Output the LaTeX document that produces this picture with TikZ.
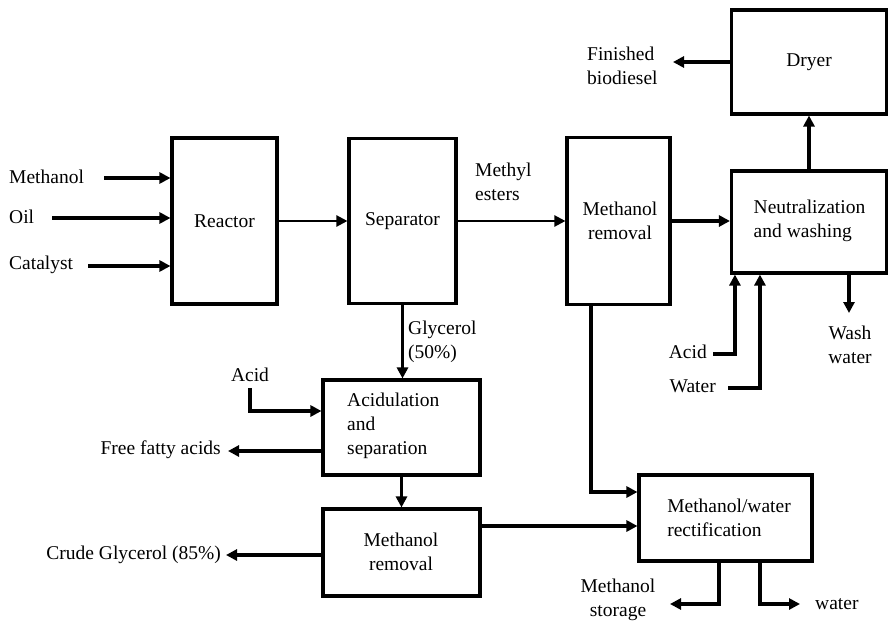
\documentclass[tikz,border=0pt]{standalone}
\usepackage{fontspec}
\setmainfont{Liberation Serif}
\usetikzlibrary{arrows.meta}
\begin{document}
\begin{tikzpicture}[x=1pt,y=-1pt,
  box/.style={draw, line width=3.1pt, inner sep=0pt},
  txt/.style={font=\fontsize{19.5}{24}\selectfont, inner sep=0pt},
  arr/.style={line width=3.1pt, -{Triangle[length=11pt,width=11pt]}},
  tarr/.style={line width=2.2pt, -{Triangle[length=11pt,width=11pt]}},
  pln/.style={line width=3.1pt}]
\useasboundingbox (0,0) rectangle (889,624);
% boxes
\node[box, minimum width=105pt, minimum height=166pt] (reactor) at (224.5,221) {};
\node[txt] at (reactor.center) {Reactor};
\node[box, minimum width=107pt, minimum height=165pt] (sep) at (402.5,221) {};
\node[txt] at (sep.center) {Separator};
\node[box, minimum width=103pt, minimum height=167pt] (mr1) at (618.5,221) {};
\node[txt, align=center] at (620,221) {Methanol\\removal};
\node[box, minimum width=155pt, minimum height=104pt] (dryer) at (809,62) {};
\node[txt] at (dryer.center) {Dryer};
\node[box, minimum width=155pt, minimum height=102pt] (neut) at (809,222) {};
\node[txt, align=left] at (809.5,221) {Neutralization\\and washing};
\node[box, minimum width=157pt, minimum height=95pt] (acid) at (401.5,427.5) {};
\node[txt, align=left, anchor=west] at (347,426) {Acidulation\\and\\separation};
\node[box, minimum width=157pt, minimum height=87pt] (mr2) at (401.5,552.5) {};
\node[txt, align=center] at (401,552) {Methanol\\removal};
\node[box, minimum width=173pt, minimum height=86pt] (rect) at (725.5,518) {};
\node[txt, align=left] at (729,518) {Methanol/water\\rectification};
% inputs to reactor
\node[txt, anchor=west] (lmeth) at (9,177) {Methanol};
\node[txt, anchor=west] (loil) at (9,217) {Oil};
\node[txt, anchor=west] (lcat) at (9,265) {Catalyst};
\coordinate (smeth) at (104,178);
\coordinate (soil) at (52,218);
\coordinate (scat) at (88,266);
\draw[arr] (smeth) -- (smeth -| reactor.west);
\draw[arr] (soil) -- (soil -| reactor.west);
\draw[arr] (scat) -- (scat -| reactor.west);
% main line
\draw[tarr] (reactor.east) -- (sep.west);
\draw[tarr] (sep.east) -- (mr1.west);
\node[txt, align=left, anchor=west] at (475,182) {Methyl\\esters};
\draw[arr] (mr1.east) -- (mr1.east -| neut.west);
\draw[arr] (neut.north) -- (dryer.south);
\coordinate (fin) at (673,62);
\draw[arr] (dryer.west) -- (fin);
\node[txt, align=left, anchor=west] at (587,66) {Finished\\biodiesel};
% neutralization inputs/outputs
\node[txt, anchor=east] at (707,352) {Acid};
\node[txt, anchor=east] at (716,386) {Water};
\coordinate (ar) at (713,354);
\coordinate (wr) at (728,388);
\draw[arr] (ar) -| ([xshift=5pt]neut.south west);
\draw[arr] (wr) -| ([xshift=30pt]neut.south west);
\coordinate (ww) at (849,313);
\draw[arr] (neut.south -| ww) -- (ww);
\node[txt, align=center] at (850,345) {Wash\\water};
% glycerol branch
\draw[arr] (sep.south) -- (sep.south |- acid.north);
\node[txt, align=left, anchor=west] at (408,342) {Glycerol\\(50\%)};
\node[txt] at (250,375) {Acid};
\coordinate (ac1) at (250,388);
\draw[arr] (ac1) |- ([yshift=16.5pt]acid.west);
\coordinate (ffa) at (228,451);
\draw[arr] (acid.west |- ffa) -- (ffa);
\node[txt, anchor=east] at (221,450) {Free fatty acids};
\draw[arr] (acid.south) -- (mr2.north);
\coordinate (cg) at (226,555);
\draw[arr] (mr2.west |- cg) -- (cg);
\node[txt, anchor=east] at (221,555) {Crude Glycerol (85\%)};
\coordinate (m2r) at (480,526);
\draw[arr] (m2r) -- (m2r -| rect.west);
\coordinate (m1d) at (591,305);
\draw[arr] (m1d) |- ([yshift=26pt]rect.west);
% rectification outputs
\coordinate (ms) at (670,604);
\coordinate (wa) at (800,604);
\draw[arr] (rect.south -| 719,0) |- (ms);
\draw[arr] (rect.south -| 760,0) |- (wa);
\node[txt, align=center] at (618,600) {Methanol\\storage};
\node[txt, anchor=west] at (815,604) {water};
\end{tikzpicture}
\end{document}
